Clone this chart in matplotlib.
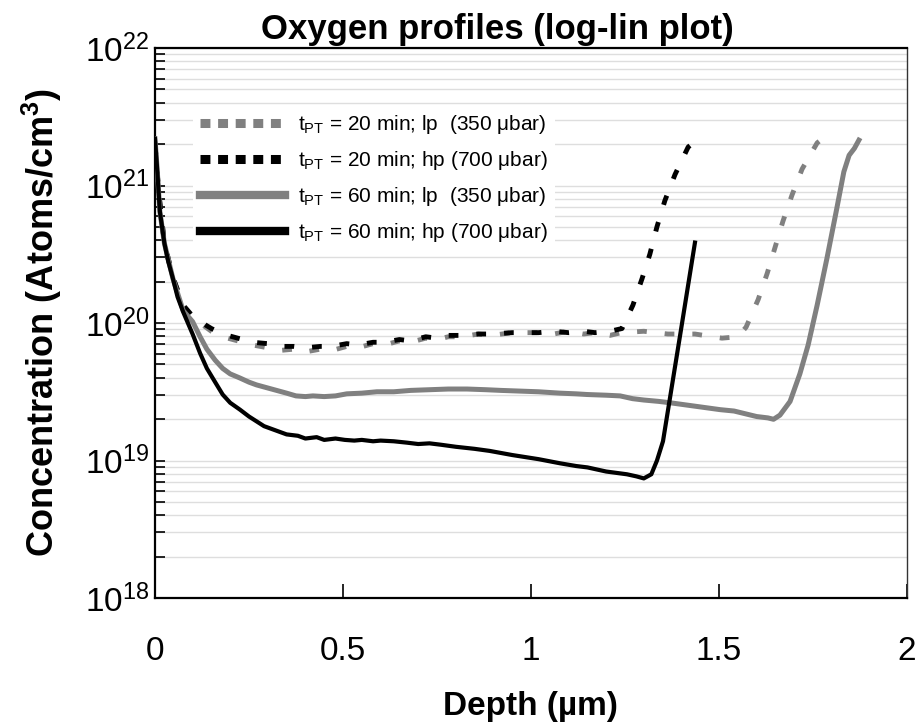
import numpy as np
import matplotlib.pyplot as plt
from matplotlib.lines import Line2D
from matplotlib.ticker import LogLocator, NullFormatter

plt.rcParams['font.family'] = ['Liberation Sans', 'DejaVu Sans']
plt.rcParams['mathtext.fontset'] = 'custom'
plt.rcParams['mathtext.rm'] = 'Liberation Sans'
plt.rcParams['mathtext.it'] = 'Liberation Sans:italic'
plt.rcParams['mathtext.bf'] = 'Liberation Sans:bold'

# data (depth in um, log10 of concentration in atoms/cm3)
depth_20lp = [0.0, 0.01, 0.025, 0.048, 0.075, 0.10, 0.12, 0.15, 0.18, 0.22, 0.26, 0.30, 0.33,
              0.37, 0.40, 0.44, 0.47, 0.51, 0.54, 0.58, 0.61, 0.65, 0.68, 0.72, 0.75, 0.78,
              0.815, 0.86, 0.895, 0.95, 1.02, 1.06, 1.10, 1.14, 1.17, 1.21, 1.24, 1.30,
              1.364, 1.436, 1.508, 1.55, 1.572, 1.604, 1.628, 1.649, 1.670, 1.694, 1.721,
              1.761, 1.775]
conc_20lp = [21.30, 20.95, 20.58, 20.33, 20.12, 20.04, 20.00, 19.94, 19.90, 19.87, 19.84, 19.82, 19.80,
             19.81, 19.79, 19.81, 19.80, 19.83, 19.82, 19.85, 19.84, 19.87, 19.86, 19.89, 19.88, 19.90,
             19.90, 19.92, 19.91, 19.93, 19.93, 19.92, 19.94, 19.92, 19.93, 19.91, 19.93, 19.94,
             19.92, 19.92, 19.89, 19.90, 19.97, 20.17, 20.36, 20.55, 20.74, 20.93, 21.12,
             21.31, 21.34]

depth_20hp = [0.0, 0.01, 0.025, 0.048, 0.075, 0.10, 0.12, 0.15, 0.18, 0.22, 0.26, 0.30, 0.33,
              0.37, 0.40, 0.44, 0.47, 0.51, 0.54, 0.58, 0.61, 0.65, 0.68, 0.72, 0.75, 0.78,
              0.815, 0.86, 0.895, 0.95, 1.02, 1.06, 1.10, 1.14, 1.17, 1.21, 1.242, 1.271,
              1.295, 1.316, 1.335, 1.356, 1.383, 1.418, 1.436]
conc_20hp = [21.30, 20.95, 20.58, 20.33, 20.13, 20.05, 20.01, 19.96, 19.92, 19.89, 19.86, 19.85, 19.83,
             19.83, 19.82, 19.83, 19.83, 19.85, 19.84, 19.86, 19.86, 19.88, 19.87, 19.90, 19.89, 19.91,
             19.91, 19.92, 19.92, 19.93, 19.93, 19.94, 19.93, 19.94, 19.93, 19.94, 19.96, 20.13,
             20.32, 20.50, 20.70, 20.89, 21.08, 21.28, 21.32]

depth_60lp = [0.0, 0.005, 0.013, 0.025, 0.048, 0.075, 0.10, 0.12, 0.138, 0.16, 0.18, 0.20, 0.226,
              0.25, 0.27, 0.31, 0.35, 0.375, 0.40, 0.42, 0.45, 0.48, 0.51, 0.55, 0.59, 0.635,
              0.68, 0.73, 0.78, 0.83, 0.88, 0.92, 0.97, 1.02, 1.077, 1.12, 1.15, 1.20, 1.237,
              1.27, 1.30, 1.34, 1.37, 1.41, 1.45, 1.503, 1.54, 1.57, 1.60, 1.63, 1.645,
              1.662, 1.689, 1.715, 1.737, 1.761, 1.787, 1.813, 1.832, 1.846, 1.860, 1.872]
conc_60lp = [21.34, 21.15, 20.81, 20.58, 20.32, 20.09, 20.01, 19.90, 19.81, 19.73, 19.67, 19.63, 19.60,
             19.57, 19.55, 19.52, 19.49, 19.47, 19.465, 19.47, 19.465, 19.47, 19.485, 19.49, 19.50, 19.50,
             19.51, 19.515, 19.52, 19.52, 19.515, 19.51, 19.505, 19.50, 19.49, 19.485, 19.48, 19.475, 19.47,
             19.45, 19.44, 19.43, 19.42, 19.405, 19.39, 19.37, 19.36, 19.34, 19.32, 19.31, 19.30,
             19.33, 19.43, 19.63, 19.84, 20.13, 20.47, 20.83, 21.10, 21.22, 21.27, 21.33]

depth_60hp = [0.0, 0.005, 0.013, 0.025, 0.035, 0.048, 0.060, 0.075, 0.10, 0.12, 0.138, 0.16, 0.18,
              0.20, 0.226, 0.25, 0.27, 0.29, 0.31, 0.33, 0.35, 0.38, 0.40, 0.43, 0.45, 0.48,
              0.505, 0.53, 0.55, 0.58, 0.60, 0.635, 0.67, 0.70, 0.73, 0.76, 0.80, 0.85, 0.89,
              0.95, 1.02, 1.077, 1.12, 1.15, 1.20, 1.255, 1.28, 1.30, 1.32, 1.335, 1.351,
              1.40, 1.436]
conc_60hp = [21.34, 21.15, 20.81, 20.58, 20.45, 20.32, 20.19, 20.08, 19.92, 19.78, 19.67, 19.57, 19.48,
             19.42, 19.37, 19.32, 19.285, 19.25, 19.23, 19.21, 19.19, 19.18, 19.16, 19.17, 19.15, 19.16,
             19.15, 19.145, 19.15, 19.14, 19.145, 19.14, 19.13, 19.12, 19.125, 19.115, 19.10, 19.085, 19.07,
             19.04, 19.01, 18.98, 18.96, 18.95, 18.92, 18.90, 18.885, 18.87, 18.90, 19.00, 19.14,
             19.97, 20.585]

labels = ['t$_{\\mathrm{PT}}$ = 20 min; lp  (350 \u03bcbar)',
          't$_{\\mathrm{PT}}$ = 20 min; hp (700 \u03bcbar)',
          't$_{\\mathrm{PT}}$ = 60 min; lp  (350 \u03bcbar)',
          't$_{\\mathrm{PT}}$ = 60 min; hp (700 \u03bcbar)']

gray = '#808080'

fig = plt.figure(figsize=(9.16, 7.22), dpi=100)
ax = fig.add_axes([0.1692, 0.1717, 0.8210, 0.7618])

# curves
ax.plot(depth_20lp, 10 ** np.array(conc_20lp), color=gray, lw=3.5, dashes=(2.0, 3.7),
        dash_capstyle='butt', zorder=3)
ax.plot(depth_20hp, 10 ** np.array(conc_20hp), color='black', lw=3.5, dashes=(2.0, 3.7),
        dash_capstyle='butt', zorder=3)
ax.plot(depth_60lp, 10 ** np.array(conc_60lp), color=gray, lw=3.6, zorder=3)
ax.plot(depth_60hp, 10 ** np.array(conc_60hp), color='black', lw=3.0, zorder=4)

# axes
ax.set_yscale('log')
ax.set_ylim(1e18, 1e22)
ax.set_xlim(0, 2)
ax.set_xticks([0, 0.5, 1, 1.5, 2])
ax.set_xticklabels(['0', '0.5', '1', '1.5', '2'])
ax.yaxis.set_major_locator(LogLocator(base=10, numticks=10))
ax.yaxis.set_minor_locator(LogLocator(base=10, subs=np.arange(2, 10), numticks=10))
ax.yaxis.set_minor_formatter(NullFormatter())
ax.tick_params(axis='x', direction='in', length=10, width=1.2, labelsize=24, pad=27)
ax.tick_params(axis='y', which='both', direction='in', length=7, width=1.2, labelsize=24, pad=4)
ax.tick_params(top=False, right=False)

# grid
ax.grid(which='both', axis='y', color='#dedede', lw=1.0)
ax.grid(False, axis='x')
ax.set_axisbelow(True)
for s in ['left', 'bottom', 'top']:
    ax.spines[s].set_linewidth(1.6)
ax.spines['right'].set_linewidth(1.0)
ax.spines['right'].set_color('#333333')

# legend
handles = [
    Line2D([], [], color=gray, lw=6.5, dashes=(1.1, 0.85), dash_capstyle='butt'),
    Line2D([], [], color='black', lw=6.5, dashes=(1.1, 0.85), dash_capstyle='butt'),
    Line2D([], [], color=gray, lw=6.0),
    Line2D([], [], color='black', lw=6.0),
]
leg = ax.legend(handles, labels, loc='upper left', bbox_to_anchor=(0.05, 0.895),
                fontsize=15, frameon=True, facecolor='white', edgecolor='none', framealpha=1,
                handlelength=4.1, handletextpad=0.6, labelspacing=0.62, borderpad=0.35,
                borderaxespad=0, fancybox=False)

# labels
fig.text(497 / 916, 1 - 30 / 722, 'Oxygen profiles (log-lin plot)', ha='center', va='center',
         fontsize=25, fontweight='bold')
fig.text(530 / 916, 1 - 707 / 722, 'Depth (\u00b5m)', ha='center', va='center',
         fontsize=24, fontweight='bold')
fig.text(42 / 916, 1 - 322 / 722, 'Concentration (Atoms/cm$^{\\mathbf{3}}$)', ha='center',
         va='center', rotation=90, fontsize=26, fontweight='bold')

fig.savefig('out.png', dpi=100)
